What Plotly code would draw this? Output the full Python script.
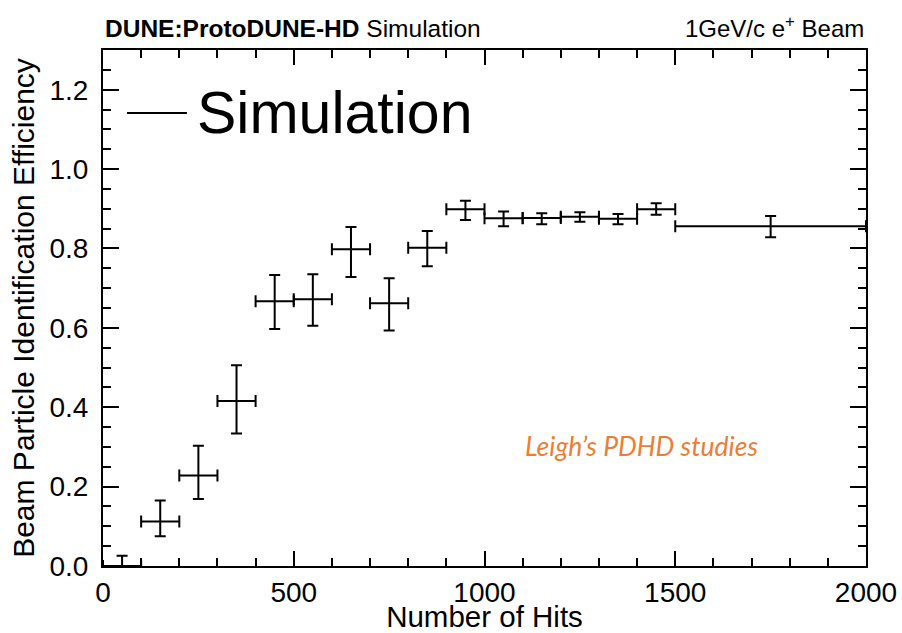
import plotly.graph_objects as go

# Beam particle identification efficiency vs number of hits (ProtoDUNE-HD simulation)
bin_centers = [50, 150, 250, 350, 450, 550, 650, 750, 850, 950, 1050, 1150, 1250, 1350, 1450, 1750]
bin_half_widths = [50, 50, 50, 50, 50, 50, 50, 50, 50, 50, 50, 50, 50, 50, 50, 250]
efficiency = [0.0, 0.112, 0.228, 0.416, 0.667, 0.672, 0.798, 0.662, 0.802, 0.899,
              0.876, 0.877, 0.880, 0.875, 0.899, 0.856]
err_up = [0.026, 0.053, 0.075, 0.090, 0.066, 0.063, 0.056, 0.063, 0.042, 0.021,
          0.017, 0.012, 0.011, 0.012, 0.015, 0.026]
err_down = [0.0, 0.037, 0.059, 0.082, 0.070, 0.067, 0.070, 0.069, 0.047, 0.027,
            0.020, 0.016, 0.013, 0.014, 0.014, 0.028]

series_name = "Simulation"
header_left = "<b>DUNE:ProtoDUNE-HD</b> Simulation"
header_right = "1GeV/c e<sup>+</sup> Beam"
note_text = "Leigh\u2019s PDHD studies"

FONT = "Liberation Sans, Arial, Helvetica, sans-serif"

fig = go.Figure()
fig.add_trace(go.Scatter(
    x=bin_centers,
    y=efficiency,
    mode="markers",
    name=series_name,
    marker=dict(size=0.1, color="black"),
    error_x=dict(type="data", array=bin_half_widths, symmetric=True,
                 color="black", thickness=2, width=6),
    error_y=dict(type="data", array=err_up, arrayminus=err_down, symmetric=False,
                 color="black", thickness=2, width=5.5),
    showlegend=False,
    cliponaxis=True,
))

axis_common = dict(
    showline=True, linecolor="black", linewidth=2, mirror="ticks",
    ticks="inside", tickcolor="black", tickwidth=1.5,
    showgrid=False, zeroline=False, automargin=False,
    tickfont=dict(family=FONT, size=28, color="black"),
)

fig.update_xaxes(
    range=[0, 2000], dtick=500, ticklen=15,
    minor=dict(dtick=100, ticks="inside", ticklen=8, tickcolor="black", tickwidth=1.5),
    title=dict(text="Number of Hits", font=dict(family=FONT, size=29.5, color="black"), standoff=1),
    **axis_common,
)
fig.update_yaxes(
    range=[0, 1.3], dtick=0.2, tickformat=".1f", ticklen=16, ticklabelstandoff=7,
    minor=dict(dtick=0.05, ticks="inside", ticklen=8, tickcolor="black", tickwidth=1.5),
    title=dict(text="Beam Particle Identification Efficiency",
               font=dict(family=FONT, size=30, color="black"), standoff=6),
    **axis_common,
)

# legend entry: short line sample followed by the series name
fig.add_shape(type="line", xref="paper", yref="paper",
              x0=0.0315, x1=0.110, y0=0.878, y1=0.878,
              line=dict(color="black", width=2))

annotations = [
    dict(text=series_name, xref="paper", yref="paper", x=0.121, y=0.878,
         xanchor="left", yanchor="middle", showarrow=False,
         font=dict(family=FONT, size=59, color="black")),
    dict(text=header_left, xref="paper", yref="paper", x=0.0, y=1.012,
         xanchor="left", yanchor="bottom", showarrow=False,
         font=dict(family=FONT, size=24.5, color="black")),
    dict(text=header_right, xref="paper", yref="paper", x=1.0, y=1.012,
         xanchor="right", yanchor="bottom", showarrow=False,
         font=dict(family=FONT, size=24, color="black")),
    dict(text="<i>" + note_text + "</i>", xref="paper", yref="paper", x=0.55, y=0.2326,
         xanchor="left", yanchor="middle", showarrow=False,
         font=dict(family="Lato, Open Sans, sans-serif", size=26.5, color="#ED7D31")),
]
fig.update_layout(
    template="none",
    annotations=annotations,
    width=902, height=633,
    margin=dict(l=103, r=36, t=50, b=67),
    paper_bgcolor="white", plot_bgcolor="white",
    showlegend=False,
)

fig.write_html("out.html")
